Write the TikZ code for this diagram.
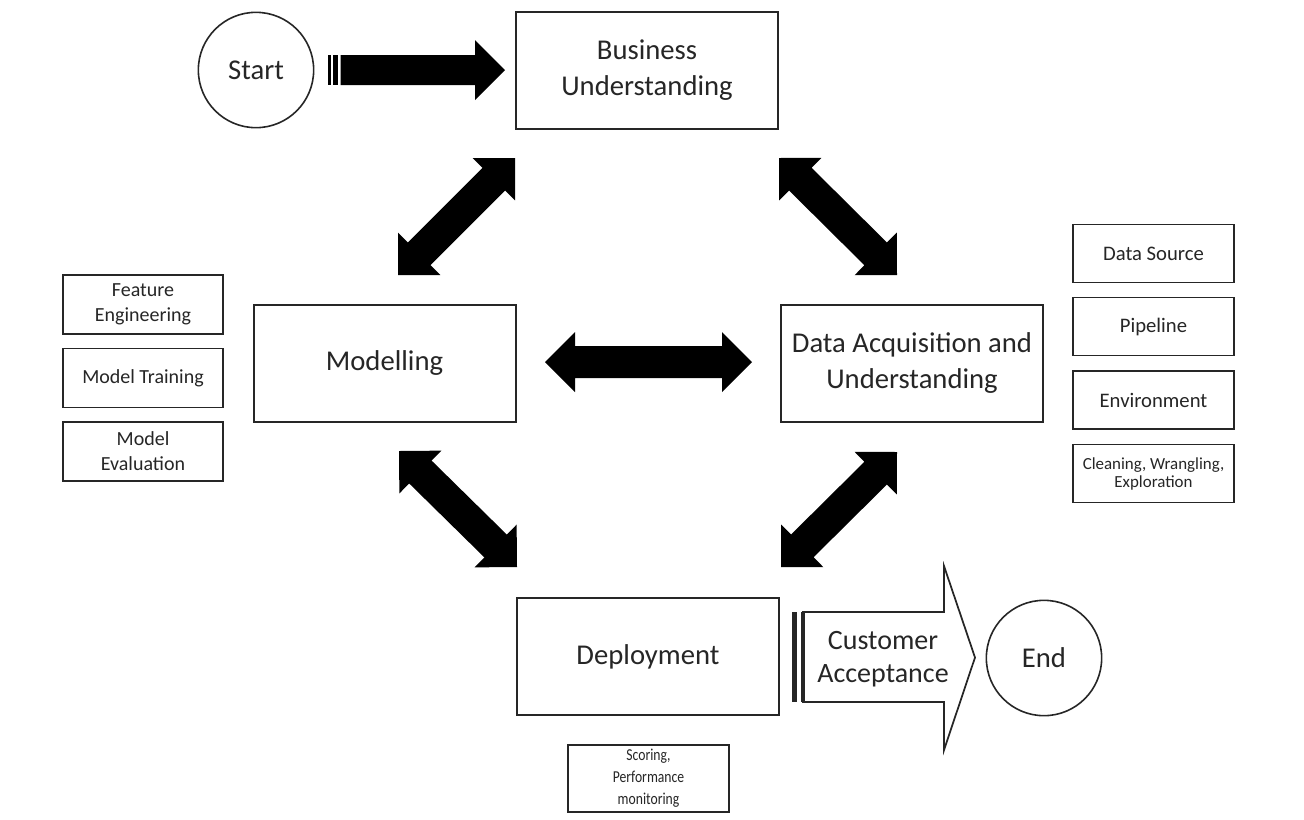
\documentclass[tikz,border=0pt]{standalone}
\usepackage{fontspec}
\setmainfont{Carlito}
\usetikzlibrary{calc}
\definecolor{ink}{HTML}{262626}
\newcommand{\dblblock}[2]{%
  \coordinate (#1p) at ($(#1)!22.5pt!(#2)$);
  \coordinate (#2p) at ($(#2)!22.5pt!(#1)$);
  \fill[blockfill] (#1) -- ($(#1p)!22.5pt!90:(#2)$) -- ($(#1p)!12pt!90:(#2)$)
    -- ($(#2p)!12pt!-90:(#1)$) -- ($(#2p)!22.5pt!-90:(#1)$) -- (#2)
    -- ($(#2p)!22.5pt!90:(#1)$) -- ($(#2p)!12pt!90:(#1)$)
    -- ($(#1p)!12pt!-90:(#2)$) -- ($(#1p)!22.5pt!-90:(#2)$) -- cycle;}
\begin{document}
\begin{tikzpicture}[x=0.75pt,y=-0.75pt,
  blockfill/.style={fill=black},
  mainbox/.style={draw=ink, line width=1.5pt, fill=white, text=ink, align=center,
    minimum width=196.5pt, minimum height=87.75pt, inner sep=0pt,
    font=\fontsize{21.5}{27}\selectfont},
  termcircle/.style={draw=ink, line width=1.2pt, circle, text=ink, inner sep=0pt,
    minimum size=86.5pt, font=\fontsize{21.5}{27}\selectfont},
  rbox/.style={draw=ink, line width=1.1pt, fill=white, text=ink, align=center,
    minimum width=120.75pt, minimum height=43.5pt, inner sep=0pt,
    font=\fontsize{15.5}{18.75}\selectfont},
  lbox/.style={draw=ink, line width=1.1pt, fill=white, text=ink, align=center,
    minimum width=120pt, minimum height=44.25pt, inner sep=0pt,
    font=\fontsize{15}{18.75}\selectfont},
  sbox/.style={draw=ink, line width=1.1pt, fill=white, text=ink, align=center,
    minimum width=120.75pt, minimum height=50.25pt, inner sep=0pt,
    font=\fontsize{12.5}{16.5}\selectfont},
  arrowtext/.style={text=ink, align=center, inner sep=0pt,
    font=\fontsize{21}{25}\selectfont}
]
\useasboundingbox (0,0) rectangle (1304,819);

% main boxes
\node[mainbox] (bu) at (647,70) {Business\\Understanding};
\node[mainbox] (mod) at (384.5,363) {Modelling};
\node[mainbox] (daq) at (912,363.5) {Data Acquisition and\\Understanding};
\node[mainbox] (dep) at (648,656.5) {Deployment};

% start / end
\node[termcircle] (start) at (256,70) {Start};
\node[termcircle] (end) at (1044,658) {End};

% side boxes right
\node[rbox] (ds) at (1153.5,253.5) {Data Source};
\node[rbox] (pl) at (1153.5,326.5) {Pipeline};
\node[rbox] (env) at (1153.5,400) {Environment};
\node[rbox, font=\fontsize{12.7}{13.5}\selectfont] (cwe) at (1153.5,473.5) {Cleaning, Wrangling,\\Exploration};

% side boxes left
\node[lbox] (fe) at (143,304.5) {Feature\\Engineering};
\node[lbox] (mt) at (143,378) {Model Training};
\node[lbox] (me) at (143,451.5) {Model\\Evaluation};

% scoring box
\node[sbox] (sc) at (648.5,778.5) {\scalebox{0.82}[1]{Scoring,}\\\scalebox{0.82}[1]{Performance}\\\scalebox{0.82}[1]{monitoring}};

% start arrow (striped block arrow)
\coordinate (stTail) at (340.7,70);
\coordinate (stTip) at (505,70);
\fill[blockfill] (328.3,55) rectangle (331,85);
\fill[blockfill] (333.3,55) rectangle (337.7,85);
\fill[blockfill] (stTail) ++(0,-15) -- ++(134.3,0) -- ++(0,-15) -- (stTip)
  -- ++(-30,30) -- ++(0,-15) -- ++(-134.3,0) -- cycle;

% double arrows
\coordinate (ulA) at (515,158);
\coordinate (ulB) at (398,275);
\dblblock{ulA}{ulB}
\coordinate (urA) at (779,158);
\coordinate (urB) at (897,275);
\dblblock{urA}{urB}
\coordinate (llA) at (399,451);
\coordinate (llB) at (517,567);
\dblblock{llA}{llB}
\coordinate (lrA) at (897,452);
\coordinate (lrB) at (781,567);
\dblblock{lrA}{lrB}
\coordinate (hA) at (545,362);
\coordinate (hB) at (752,362);
\dblblock{hA}{hB}

% customer acceptance arrow (striped outlined block arrow)
\fill[ink] (792,612) rectangle (797,702);
\fill[ink] (800.7,612) rectangle (804.5,702);
\coordinate (caTip) at (975,657.5);
\draw[ink, line width=1.3pt, line join=miter] (803,612) -- (944,612) -- (944,566) -- (caTip)
  -- (944,750) -- (944,702) -- (803,702) -- cycle;
\node[arrowtext] (ca) at (883,659) {Customer\\Acceptance};
\end{tikzpicture}
\end{document}
